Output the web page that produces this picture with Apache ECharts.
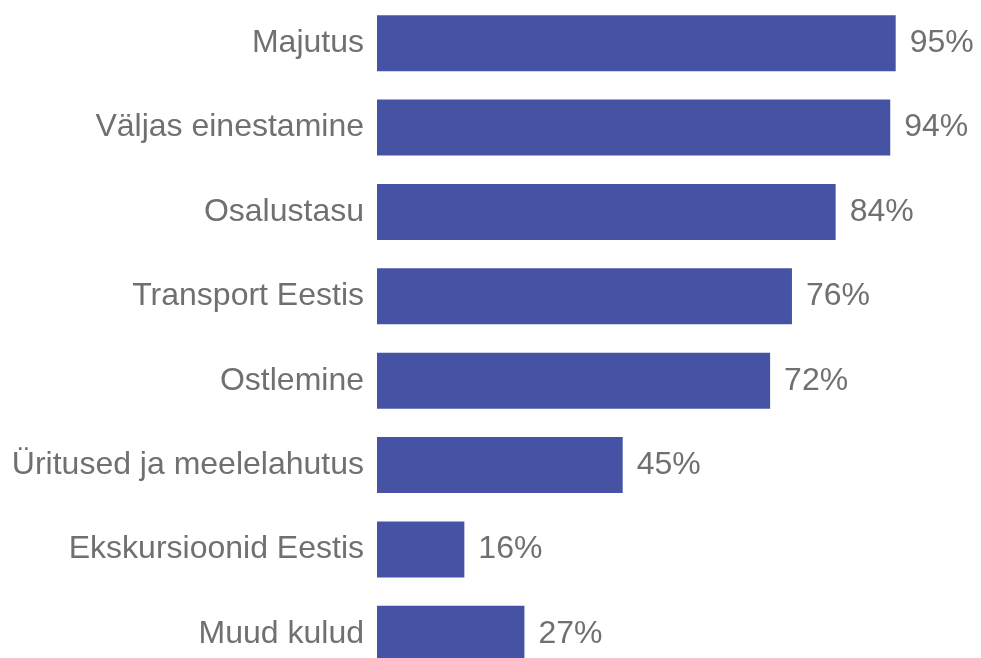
<!DOCTYPE html>
<html>
<head>
<meta charset="utf-8">
<script src="https://cdn.jsdelivr.net/npm/echarts@6/dist/echarts.min.js"></script>
<style>
  html, body { margin: 0; padding: 0; background: #fff; overflow: hidden; }
  /* taller than the window: the last bar runs off the bottom edge like the reference */
  #chart { width: 981px; height: 676px; }
</style>
</head>
<body>
<div id="chart"></div>
<script>
var categories = ['Majutus', 'Väljas einestamine', 'Osalustasu', 'Transport Eestis',
  'Ostlemine', 'Üritused ja meelelahutus', 'Ekskursioonid Eestis', 'Muud kulud']
var values = [95, 94, 84, 76, 72, 45, 16, 27]

var chart = echarts.init(document.getElementById('chart'))
chart.setOption({
  animation: false,
  grid: {
    left: 377,
    right: 58,
    top: 1,
    bottom: 0
  },
  xAxis: {
    type: 'value',
    min: 0,
    max: 100,
    show: false
  },
  yAxis: {
    type: 'category',
    data: categories,
    inverse: true,
    axisLine: { show: false },
    axisTick: { show: false },
    axisLabel: {
      margin: 13,
      color: '#707070',
      fontSize: 32,
      fontFamily: 'Liberation Sans, Arial, sans-serif'
    }
  },
  series: [{
    type: 'bar',
    data: values,
    barWidth: 56,
    itemStyle: { color: '#4653a5' },
    label: {
      show: true,
      position: 'right',
      distance: 14,
      formatter: '{c}%',
      color: '#707070',
      fontSize: 32,
      fontFamily: 'Liberation Sans, Arial, sans-serif'
    }
  }]
})
</script>
</body>
</html>
